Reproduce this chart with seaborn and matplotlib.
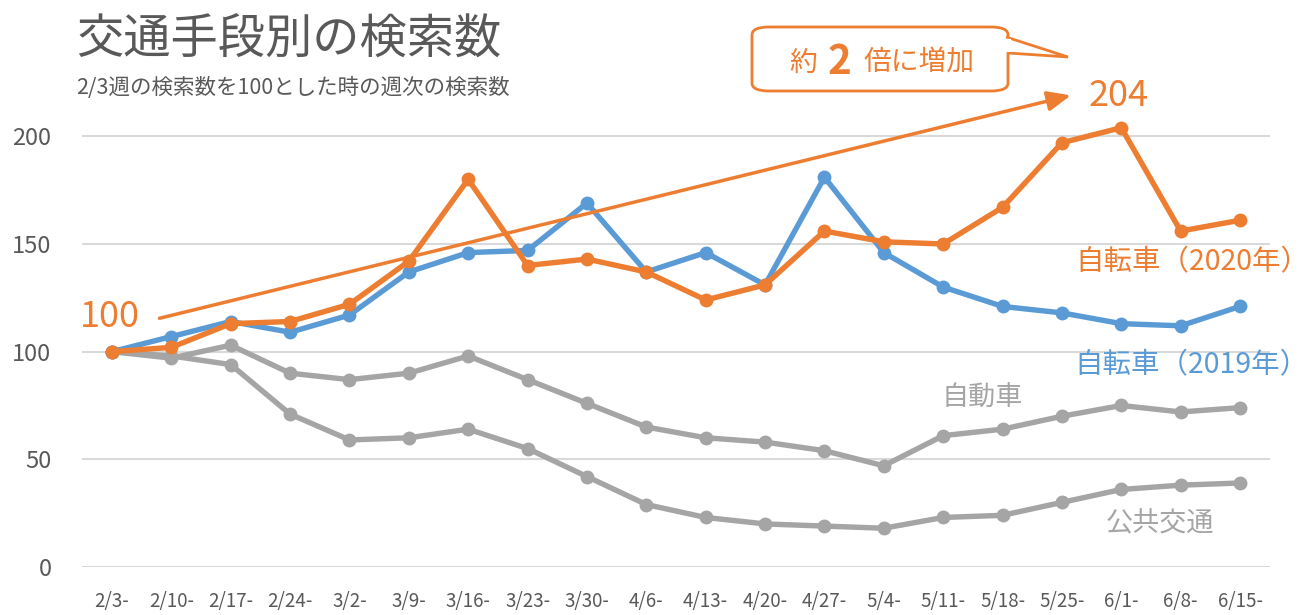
import matplotlib
matplotlib.use("Agg")
import matplotlib.pyplot as plt
import seaborn as sns
import pandas as pd
from matplotlib.patches import FancyBboxPatch, Polygon

weeks = ["2/3-", "2/10-", "2/17-", "2/24-", "3/2-", "3/9-", "3/16-", "3/23-", "3/30-", "4/6-",
         "4/13-", "4/20-", "4/27-", "5/4-", "5/11-", "5/18-", "5/25-", "6/1-", "6/8-", "6/15-"]
bike_2020 = [100, 102, 113, 114, 122, 142, 180, 140, 143, 137, 124, 131, 156, 151, 150, 167, 197, 204, 156, 161]
bike_2019 = [100, 107, 114, 109, 117, 137, 146, 147, 169, 137, 146, 131, 181, 146, 130, 121, 118, 113, 112, 121]
car = [100, 97, 103, 90, 87, 90, 98, 87, 76, 65, 60, 58, 54, 47, 61, 64, 70, 75, 72, 74]
public = [100, 98, 94, 71, 59, 60, 64, 55, 42, 29, 23, 20, 19, 18, 23, 24, 30, 36, 38, 39]

series_names = ["公共交通", "自動車", "自転車（2019年）", "自転車（2020年）"]
series_values = [public, car, bike_2019, bike_2020]
colors = {"公共交通": "#A5A5A5", "自動車": "#A5A5A5",
          "自転車（2019年）": "#5B9BD5", "自転車（2020年）": "#ED7D31"}

rows = []
for name, vals in zip(series_names, series_values):
    for i, (w, v) in enumerate(zip(weeks, vals)):
        rows.append({"idx": i, "week": w, "value": v, "series": name})
df = pd.DataFrame(rows)

sns.set_style("white")
plt.rcParams["font.family"] = ["Noto Sans CJK JP", "DejaVu Sans"]

W, H = 1310, 615
fig = plt.figure(figsize=(W / 100, H / 100), dpi=100)
ax = fig.add_axes([82 / W, (H - 567) / H, 1188 / W, (567 - 104) / H])

for name in series_names:
    sub = df[df["series"] == name]
    sns.lineplot(data=sub, x="idx", y="value", ax=ax, color=colors[name], linewidth=3.9,
                 marker="o", markersize=10, markeredgewidth=0, sort=False, legend=False,
                 clip_on=False, zorder=3)

ax.set_xlim(-0.505, 19.505)
ax.set_ylim(0, 215)
ax.set_yticks([0, 50, 100, 150, 200])
ax.set_xticks(range(len(weeks)))
ax.set_xticklabels(weeks)
ax.set_xlabel("")
ax.set_ylabel("")
for s in ax.spines.values():
    s.set_visible(False)
ax.yaxis.grid(True, color="#D9D9D9", linewidth=1.5, zorder=0)
ax.xaxis.grid(False)
ax.tick_params(axis="both", length=0, colors="#595959")
ax.tick_params(axis="y", labelsize=17, pad=22)
ax.tick_params(axis="x", labelsize=13.5, pad=17)

# Series labels
ax.text(18.19, 141.5, "自転車（2020年）", color="#ED7D31", fontsize=20.5, ha="center", va="center")
ax.text(18.19, 93.7, "自転車（2019年）", color="#5B9BD5", fontsize=20.5, ha="center", va="center")
ax.text(14.65, 78.4, "自動車", color="#A5A5A5", fontsize=19.5, ha="center", va="center")
ax.text(17.65, 20, "公共交通", color="#A5A5A5", fontsize=19.5, ha="center", va="center")
ax.text(-0.03, 116, "100", color="#ED7D31", fontsize=26, ha="center", va="center")
ax.text(16.96, 218.5, "204", color="#ED7D31", fontsize=26, ha="center", va="center", clip_on=False)

# Trend arrow
ax.annotate("", xy=(16.15, 219), xytext=(0.8, 115.5), annotation_clip=False,
            arrowprops=dict(arrowstyle="-|>,head_length=1.4,head_width=0.6", color="#ED7D31",
                            lw=2.5, shrinkA=0, shrinkB=0))

# Title
fig.text(76 / W, 1 - 40 / H, "交通手段別の検索数", fontsize=34, color="#595959", ha="left", va="center")
fig.text(76 / W, 1 - 88 / H, "2/3週の検索数を100とした時の週次の検索数", fontsize=15.5, color="#595959",
         ha="left", va="center")

# Callout box
px = lambda x, y: (x / W, 1 - y / H)
box = FancyBboxPatch(px(752, 91), (1008 - 752) / W, (91 - 27) / H,
                     boxstyle="round,pad=0,rounding_size=0.013", transform=fig.transFigure,
                     facecolor="white", edgecolor="#ED7D31", linewidth=2, zorder=5)
fig.patches.append(box)
tail = Polygon([px(1006, 37), px(1068, 57), px(1008, 53)], closed=False, transform=fig.transFigure,
               facecolor="white", edgecolor="#ED7D31", linewidth=2, zorder=6)
fig.patches.append(tail)
cover = Polygon([px(1003, 38.5), px(1011, 39), px(1011, 52), px(1003, 52)], closed=True,
                transform=fig.transFigure, facecolor="white", edgecolor="none", zorder=7)
fig.patches.append(cover)
fig.text(803 / W, 1 - 63 / H, "約", fontsize=20, color="#ED7D31", ha="center", va="center", zorder=8)
fig.text(839 / W, 1 - 62 / H, "2", fontsize=29, fontweight="bold", color="#ED7D31", ha="center",
         va="center", zorder=8)
fig.text(863 / W, 1 - 63 / H, "倍に増加", fontsize=20, color="#ED7D31", ha="left", va="center", zorder=8)

fig.savefig("out.png", dpi=100, facecolor="white")
